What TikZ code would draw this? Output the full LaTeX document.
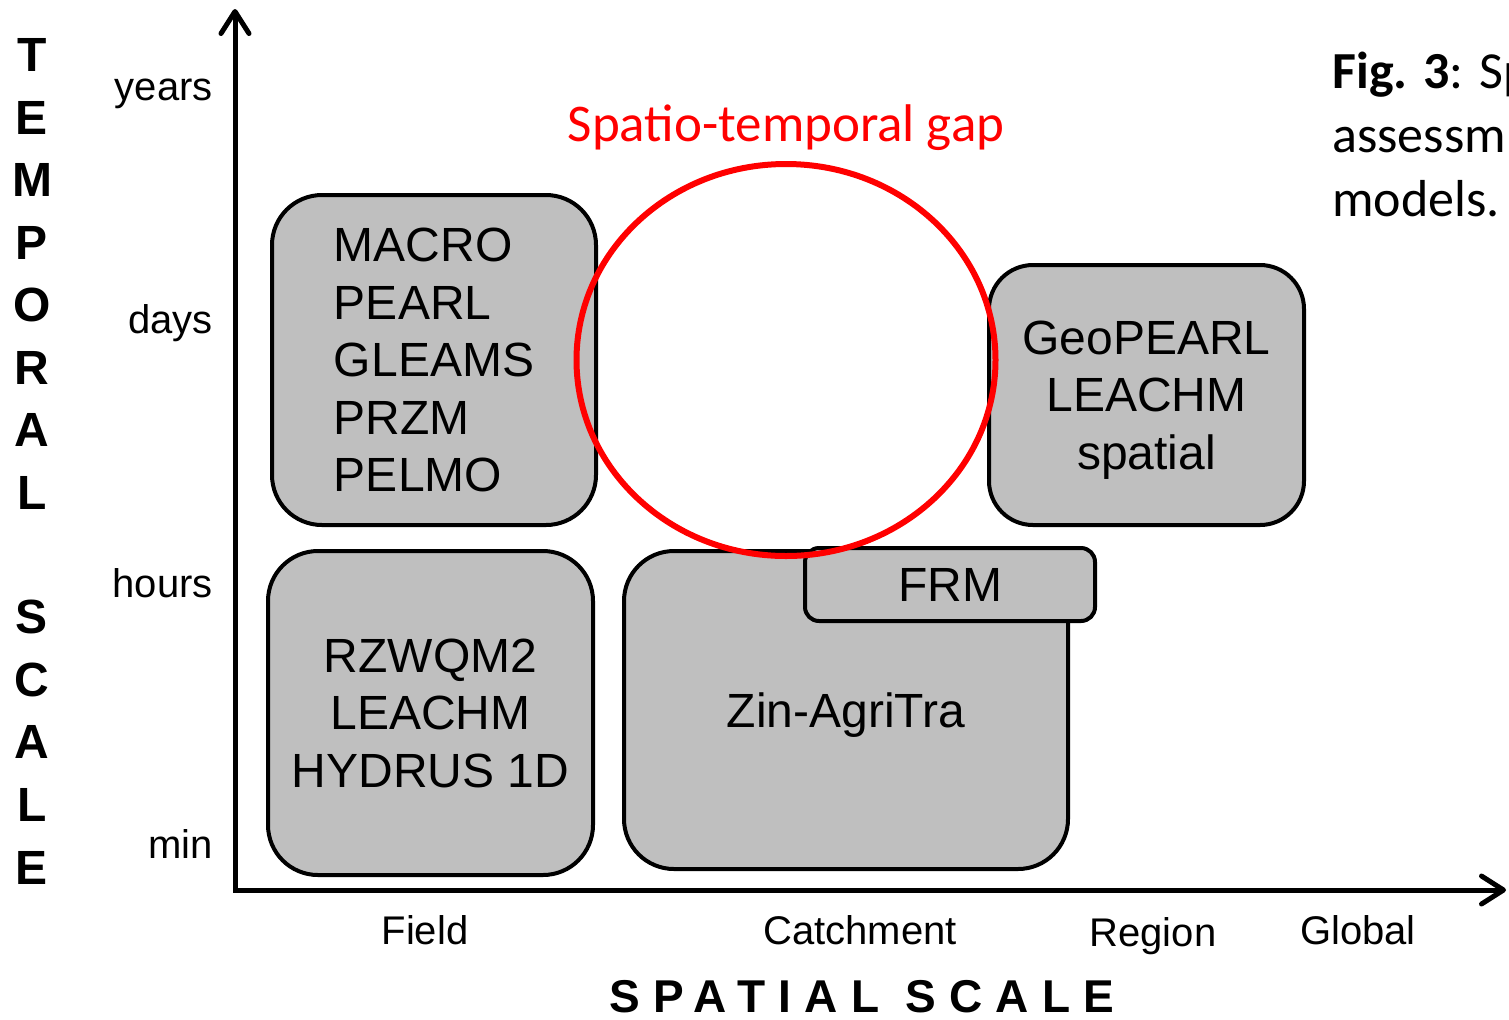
\documentclass[tikz,border=0pt]{standalone}
\usepackage{fontspec}
\setmainfont{Liberation Sans}
\newfontfamily\capfont{Carlito}
\usetikzlibrary{arrows.meta,shapes.geometric}
\definecolor{boxgray}{HTML}{BFBFBF}

\begin{document}
\begin{tikzpicture}[x=0.5pt,y=-0.5pt,
    axisline/.style = {line width=2.5pt,{Straight Barb[round,length=11pt,width=14pt]}-{Straight Barb[round,length=11pt,width=14pt]}},
    modelbox/.style = {draw,fill=boxgray,line width=2pt,rounded corners=25pt,align=center,inner sep=0pt,
                       font=\fontsize{24}{28.75}\selectfont},
    ticklabel/.style = {font=\fontsize{20}{24}\selectfont,inner sep=0pt},
    vletter/.style = {font=\bfseries\fontsize{24}{29}\selectfont,inner sep=0pt},
    gapring/.style = {draw=red,line width=3pt,ellipse,inner sep=0pt},
    captext/.style = {font=\capfont\fontsize{26}{32}\selectfont,inner sep=0pt,anchor=base west}]
  \useasboundingbox (0,0) rectangle (1509,1019);
  \clip (0,0) rectangle (1509,1019);

  % axes
  \coordinate (origin) at (235,890);
  \coordinate (ytop) at (235,9);
  \coordinate (xend) at (1506,890);
  \draw[axisline] (ytop) -- (origin) -- (xend);

  % model boxes
  \node[modelbox,align=left,minimum width=162pt,minimum height=165pt] (macro) at (434,360)
       {MACRO\\PEARL\\GLEAMS\\PRZM\\PELMO};
  \node[modelbox,minimum width=162.5pt,minimum height=162pt] (rzwqm) at (430.5,713)
       {RZWQM2\\LEACHM\\HYDRUS 1D};
  \node[modelbox,text depth=0pt,minimum width=222pt,minimum height=159pt] (zin) at (846,710) {Zin-AgriTra};
  \node[modelbox,rounded corners=7pt,minimum width=145pt,minimum height=36.5pt] (frm) at (950,584.5) {FRM};
  \node[modelbox,text depth=0pt,rounded corners=22pt,minimum width=157.5pt,minimum height=130pt] (geo) at (1146.5,395)
       {GeoPEARL\\LEACHM\\spatial};

  % the gap
  \node[gapring,minimum width=209.5pt,minimum height=196pt] (gap) at (786,360) {};
  \node[text=red,font=\capfont\fontsize{26.5}{32}\selectfont,inner sep=0pt,anchor=base] (gaplabel) at (786,141)
       {Spatio-temporal gap};

  % temporal ticks
  \node[ticklabel,anchor=base east] (years) at (213,100) {years};
  \node[ticklabel,anchor=base east] (days) at (213,333) {days};
  \node[ticklabel,anchor=base east] (hours) at (213,597) {hours};
  \node[ticklabel,anchor=base east] (min) at (213,858) {min};

  % spatial ticks
  \node[ticklabel,anchor=base] (field) at (425,944) {Field};
  \node[ticklabel,anchor=base] (catchment) at (860,944) {Catchment};
  \node[ticklabel,anchor=base] (region) at (1153,946) {Region};
  \node[ticklabel,anchor=base] (global) at (1358,944) {Global};

  % axis titles
  \foreach \ch [count=\i from 0] in {T,E,M,P,O,R,A,L}
    \node[vletter] (t\i) at (32,{55+62.5*\i}) {\ch};
  \foreach \ch [count=\i from 0] in {S,C,A,L,E}
    \node[vletter] (s\i) at (32,{617+62.7*\i}) {\ch};
  \node[font=\bfseries\fontsize{23}{26}\selectfont\addfontfeature{LetterSpace=29},
        inner sep=0pt,anchor=base] (xtitle) at (862,1012) {SPATIAL SCALE};

  % caption
  \node[captext] (cap1) at (1332,88) {\textbf{Fig. 3}: Sp};
  \node[captext] (cap2) at (1332,152) {assessm};
  \node[captext] (cap3) at (1332,216) {models.};
\end{tikzpicture}
\end{document}
